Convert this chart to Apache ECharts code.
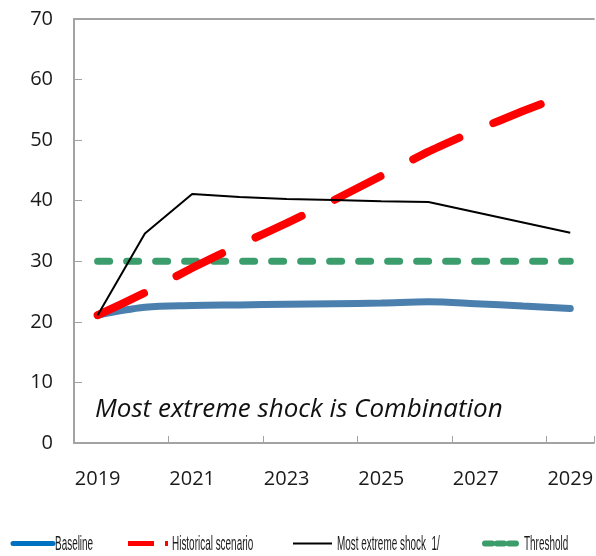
<!DOCTYPE html>
<html>
<head>
<meta charset="utf-8">
<script src="https://cdn.jsdelivr.net/npm/echarts@6/dist/echarts.min.js"></script>
<style>
html,body{margin:0;padding:0;background:#fff;}
#chart{width:596px;height:556px;}
</style>
</head>
<body>
<div id="chart"></div>
<script>
// ---- data ----
const years = ['2019','2020','2021','2022','2023','2024','2025','2026','2027','2028','2029'];
const baseline = [21.1, 22.4, 22.7, 22.8, 22.9, 23.0, 23.1, 23.3, 23.0, 22.6, 22.2];
const historical = [21.1, 24.8, 28.9, 32.7, 36.3, 40.1, 44.1, 48.1, 51.6, 54.8, 57.8];
const extremeShock = [21.1, 34.6, 41.1, 40.6, 40.3, 40.1, 39.9, 39.8, 38.1, 36.4, 34.7];
const threshold = [30, 30, 30, 30, 30, 30, 30, 30, 30, 30, 30];
const yTicks = [0, 10, 20, 30, 40, 50, 60, 70];
const seriesNames = ['Baseline', 'Historical scenario', 'Most extreme shock  1/', 'Threshold'];
const annotation = 'Most extreme shock is Combination';

const axisGray = '#a3a3a3';
const labelFont = '"Open Sans", "Noto Sans", sans-serif';
const legendFont = '"Liberation Sans", Arial, sans-serif';

const chart = echarts.init(document.getElementById('chart'), null, {renderer: 'canvas'});

// legend built from graphic elements (icon + horizontally condensed text)
const legendY = 543.5;
const legendSX = 0.71, legendSY = 1.45;
const legendItems = [
  {name: seriesNames[0], x0: 13, x1: 53, tx: 55, stroke: '#0070c0', width: 5, dash: null, cap: 'round'},
  {name: seriesNames[1], x0: 128, x1: 168, tx: 172, stroke: '#ff0000', width: 5, dash: [26, 11], cap: 'butt'},
  {name: seriesNames[2], x0: 293, x1: 332, tx: 337, stroke: '#000000', width: 2, dash: null, cap: 'butt'},
  {name: seriesNames[3], x0: 485, x1: 516, tx: 524, stroke: '#3a9d6b', width: 6, dash: [7, 5], cap: 'round'}
];
const legendGraphics = [];
legendItems.forEach(it => {
  legendGraphics.push({
    type: 'line', silent: true,
    shape: {x1: it.x0, y1: legendY, x2: it.x1, y2: legendY},
    style: {stroke: it.stroke, lineWidth: it.width, lineDash: it.dash, lineCap: it.cap}
  });
  legendGraphics.push({
    type: 'text', silent: true, x: it.tx, y: legendY + 1, scaleX: legendSX, scaleY: legendSY,
    style: {text: it.name, x: 0, y: 0, fontSize: 14, fontFamily: legendFont, fill: '#1a1a1a',
            textAlign: 'left', textVerticalAlign: 'middle'}
  });
});

const option = {
  animation: false,
  backgroundColor: '#ffffff',
  grid: {left: 74, top: 19, width: 523, bottom: 113, containLabel: false},
  xAxis: [
    {
      type: 'category',
      position: 'bottom',
      data: years,
      boundaryGap: true,
      axisLine: {show: true, lineStyle: {color: axisGray, width: 2}},
      axisTick: {show: true, inside: true, length: 7, interval: 1, alignWithLabel: false,
                 lineStyle: {color: axisGray, width: 1}},
      splitLine: {show: false},
      axisLabel: {
        show: true,
        interval: 1,
        margin: 26,
        fontSize: 20,
        fontFamily: labelFont,
        color: '#1a1a1a'
      }
    },
    {
      type: 'category',
      position: 'top',
      data: years,
      boundaryGap: true,
      axisLine: {show: true, onZero: false, lineStyle: {color: axisGray, width: 2}},
      axisTick: {show: false},
      axisLabel: {show: false},
      splitLine: {show: false}
    }
  ],
  yAxis: {
    type: 'value',
    min: yTicks[0],
    max: yTicks[yTicks.length - 1],
    interval: 10,
    axisLine: {show: true, lineStyle: {color: axisGray, width: 2}},
    axisTick: {show: true, inside: true, length: 8, lineStyle: {color: axisGray, width: 1}},
    splitLine: {show: false},
    axisLabel: {margin: 21, fontSize: 20, fontFamily: labelFont, color: '#1a1a1a'}
  },
  graphic: [
    {type: 'text', left: 95, top: 397, z: 10, silent: true,
     style: {text: annotation, fontSize: 26, fontStyle: 'italic', fontFamily: labelFont, fill: '#111'}}
  ].concat(legendGraphics),
  series: [
    {name: seriesNames[0], type: 'line', data: baseline, symbol: 'none', smooth: 0.35,
     lineStyle: {color: '#4a7fae', width: 7, cap: 'round'}, itemStyle: {color: '#4a7fae'}, z: 2},
    {name: seriesNames[1], type: 'line', data: historical, symbol: 'none', smooth: 0.15,
     lineStyle: {color: '#ff0000', width: 8, type: [51, 37], cap: 'round'}, itemStyle: {color: '#ff0000'}, z: 4},
    {name: seriesNames[2], type: 'line', data: extremeShock, symbol: 'none',
     lineStyle: {color: '#000000', width: 2}, itemStyle: {color: '#000'}, z: 5},
    {name: seriesNames[3], type: 'line', data: threshold, symbol: 'none',
     lineStyle: {color: '#3a9d6b', width: 7, type: [12, 17], cap: 'round'}, itemStyle: {color: '#3a9d6b'}, z: 3}
  ]
};
chart.setOption(option);
</script>
</body>
</html>
